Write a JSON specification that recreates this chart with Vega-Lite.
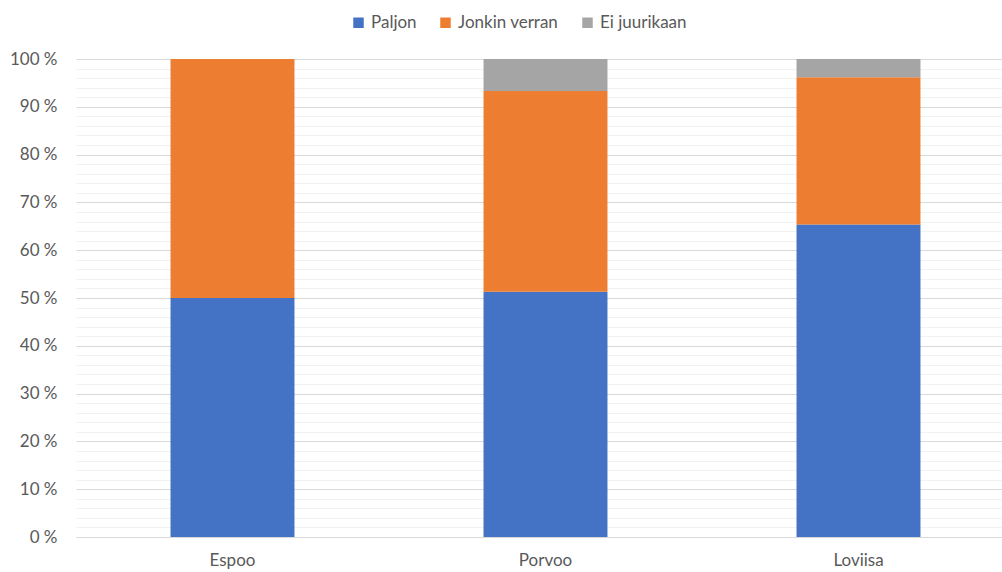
{
  "$schema": "https://vega.github.io/schema/vega-lite/v6.json",
  "width": 939,
  "height": 478,
  "autosize": "none",
  "padding": {"left": 76, "top": 59, "right": 0, "bottom": 35},
  "background": "white",
  "config": {"view": {"stroke": null}, "font": "Lato"},
  "data": {"values": [
    {"kunta": "Espoo", "vastaus": "Paljon", "jarjestys": 1, "osuus": 50.0},
    {"kunta": "Espoo", "vastaus": "Jonkin verran", "jarjestys": 2, "osuus": 50.0},
    {"kunta": "Espoo", "vastaus": "Ei juurikaan", "jarjestys": 3, "osuus": 0.0},
    {"kunta": "Porvoo", "vastaus": "Paljon", "jarjestys": 1, "osuus": 51.3},
    {"kunta": "Porvoo", "vastaus": "Jonkin verran", "jarjestys": 2, "osuus": 42.0},
    {"kunta": "Porvoo", "vastaus": "Ei juurikaan", "jarjestys": 3, "osuus": 6.7},
    {"kunta": "Loviisa", "vastaus": "Paljon", "jarjestys": 1, "osuus": 65.4},
    {"kunta": "Loviisa", "vastaus": "Jonkin verran", "jarjestys": 2, "osuus": 30.8},
    {"kunta": "Loviisa", "vastaus": "Ei juurikaan", "jarjestys": 3, "osuus": 3.8}
  ]},
  "mark": {"type": "bar"},
  "encoding": {
    "x": {
      "field": "kunta", "type": "nominal", "sort": ["Espoo", "Porvoo", "Loviisa"],
      "scale": {"paddingInner": 0.604, "paddingOuter": 0.302},
      "axis": {"title": null, "labelAngle": 0, "labelFontSize": 17, "labelColor": "#595959", "labelPadding": 15,
               "ticks": false, "domainColor": "#d9d9d9", "domainWidth": 1.2, "grid": false}
    },
    "y": {
      "field": "osuus", "type": "quantitative", "stack": "zero",
      "scale": {"domain": [0, 100], "nice": false},
      "axis": {
        "title": null, "domain": false, "ticks": false, "labelPadding": 19,
        "labelFontSize": 17, "labelColor": "#595959",
        "values": [0,2,4,6,8,10,12,14,16,18,20,22,24,26,28,30,32,34,36,38,40,42,44,46,48,50,52,54,56,58,60,62,64,66,68,70,72,74,76,78,80,82,84,86,88,90,92,94,96,98,100],
        "labelExpr": "datum.value % 10 == 0 ? datum.value + ' %' : ''",
        "gridColor": {"condition": {"test": "datum.value % 10 == 0", "value": "#d9d9d9"}, "value": "#f2f2f2"},
        "gridWidth": 1
      }
    },
    "color": {
      "field": "vastaus", "type": "nominal",
      "scale": {"domain": ["Paljon", "Jonkin verran", "Ei juurikaan"], "range": ["#4472C4", "#ED7D31", "#A5A5A5"]},
      "legend": {
        "title": null, "orient": "none", "direction": "horizontal", "legendX": 274, "legendY": -45,
        "symbolType": "square", "symbolSize": 110, "symbolStrokeWidth": 0, "labelFontSize": 17, "labelColor": "#595959",
        "labelOffset": 4, "columnPadding": 20
      }
    },
    "order": {"field": "jarjestys", "type": "quantitative"}
  }
}
